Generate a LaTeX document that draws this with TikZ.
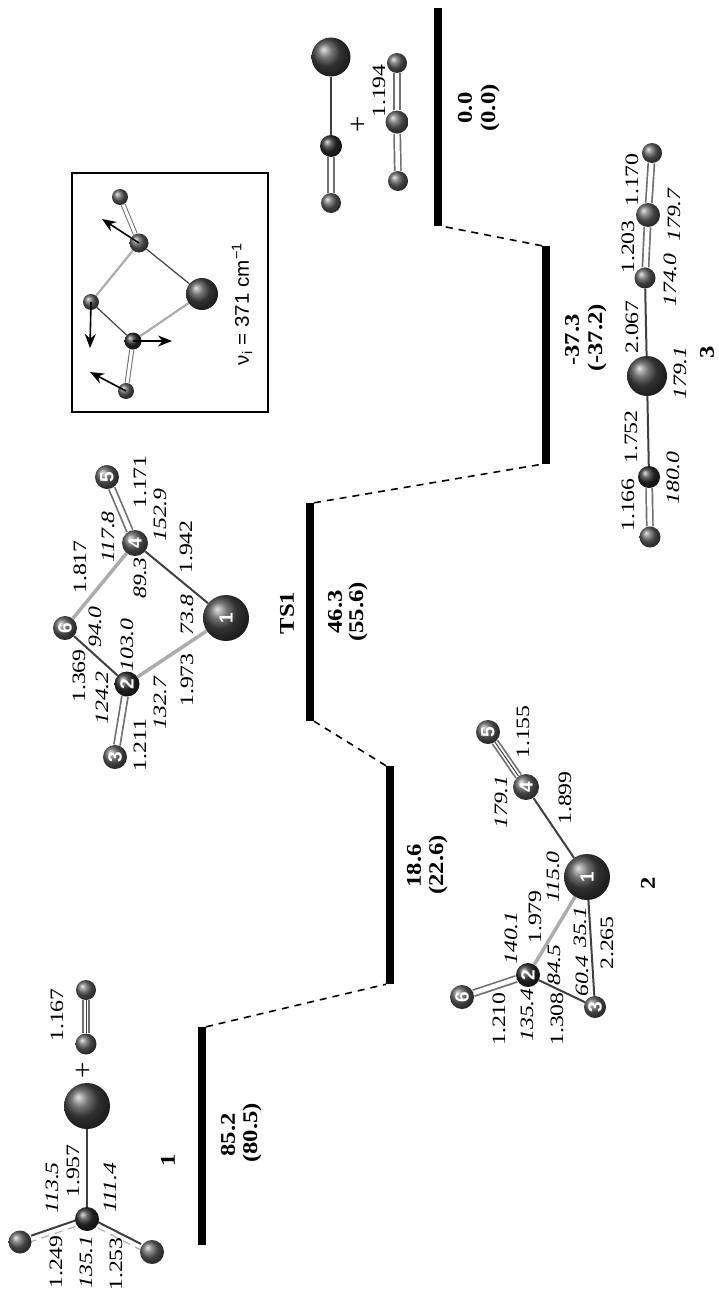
\documentclass[tikz,border=0pt]{standalone}
\usepackage{fontspec}
\setmainfont{Liberation Serif}
\setsansfont{Liberation Sans}
\usetikzlibrary{arrows.meta,backgrounds}
\tikzset{
  atom/.style={circle,inner sep=0pt,minimum size=#1,ball color=gray!75!black,rotate=90,
    text=white,font=\sffamily\bfseries\fontsize{19}{19}\selectfont},
  bigatom/.style={atom=#1,ball color=gray!55!black},
  darkatom/.style={atom=#1,ball color=gray!35!black},
  upatom/.style={atom=#1,rotate=0},
  dist/.style={rotate=90,xscale=1.32,yscale=1.05,inner sep=0pt,font=\fontsize{18}{20}\selectfont},
  angl/.style={dist,font=\itshape\fontsize{18}{20}\selectfont},
  lvltext/.style={rotate=90,xscale=1.3,yscale=1.1,inner sep=0pt,font=\bfseries\fontsize{19}{21}\selectfont},
  plus/.style={rotate=90,inner sep=0pt,scale=1.6,font=\fontsize{18}{20}\selectfont},
  lvl/.style={fill=black,inner sep=0pt,minimum width=7.5pt,minimum height=218pt},
  bond/.style={gray!50!black,line width=2pt},
  wbond/.style={gray!65,line width=3.5pt},
  dbond/.style={gray!40!black!70,line width=1.7pt,double=white,double distance=4.5pt},
  hbond/.style={gray!60,line width=1.3pt,dash pattern=on 8pt off 6pt},
  jump/.style={line width=1.6pt,dash pattern=on 7pt off 6pt},
  mode/.style={line width=1.6pt,-{Stealth[length=14pt,width=11pt]}}
}
\begin{document}
\begin{tikzpicture}[x=1pt,y=-1pt]
  \useasboundingbox (0,0) rectangle (718,1290);

  % Energy levels
  \node[lvl] (lvlA) at (202,1136) {};
  \node[lvl] (lvlB) at (390,875) {};
  \node[lvl] (lvlC) at (310,612) {};
  \node[lvl] (lvlD) at (546,355) {};
  \node[lvl] (lvlE) at (438,117) {};
  \draw[jump] (lvlA.north east) -- (lvlB.south west);
  \draw[jump] (lvlB.north west) -- (lvlC.south east);
  \draw[jump] (lvlC.north east) -- (lvlD.south west);
  \draw[jump] (lvlD.north west) -- (lvlE.south east);
  \foreach \x/\y/\t [count=\i] in {228/1135/85.2,252/1133/(80.5),168/1160/1,
      414/866/18.6,438/865/(22.6),648/883/2,287/613/TS1,335/612/46.3,358/612/(55.6),
      572/340/-37.3,597/338/(-37.2),707/352/3,465/108/0.0,490/108/(0.0)}{
    \node[lvltext] (lvltxt\i) at (\x,\y) {\t};
  }

  % Structure 1
  \node[bigatom=46pt] (rM) at (87,1106) {};
  \node[darkatom=24pt] (rC) at (87,1219) {};
  \node[atom=23pt] (rO) at (20,1242) {};
  \node[atom=24pt] (rP) at (152,1252) {};
  \node[atom=20pt] (cA) at (86,990) {};
  \node[atom=21pt] (cB) at (86,1044) {};
  \begin{scope}[on background layer]
    \draw[bond] (rM) -- (rC);
    \draw[bond,transform canvas={yshift=2.5pt}] (rC) -- (rO);
    \draw[hbond,transform canvas={yshift=-3.5pt}] (rC) -- (rO);
    \draw[bond,transform canvas={yshift=2.5pt}] (rC) -- (rP);
    \draw[hbond,transform canvas={yshift=-3.5pt}] (rC) -- (rP);
    \draw[dbond] (cA) -- (cB);
    \draw[bond,line width=1pt] (cA) -- (cB);
  \end{scope}
  \node[plus] (plusA) at (84,1070) {+};

  % TS1
  \node[bigatom=46pt] (tM) at (226,618) {1};
  \node[darkatom=25pt] (tB) at (127,684) {2};
  \node[atom=24pt] (tC) at (115,757) {3};
  \node[atom=26pt] (tD) at (135,543) {4};
  \node[atom=24pt] (tE) at (107,477) {5};
  \node[atom=24pt] (tF) at (65,628) {6};
  \begin{scope}[on background layer]
    \draw[wbond] (tM) -- (tB);
    \draw[bond] (tM) -- (tD);
    \draw[bond] (tB) -- (tF);
    \draw[wbond] (tF) -- (tD);
    \draw[dbond] (tB) -- (tC);
    \draw[dbond] (tD) -- (tE);
  \end{scope}

  % Structure 2
  \node[bigatom=46pt] (iM) at (587,877) {1};
  \node[darkatom=24pt] (iB) at (528,975) {2};
  \node[atom=22pt] (iC) at (595,1007) {3};
  \node[atom=26pt] (iD) at (526,787) {4};
  \node[atom=24pt] (iE) at (488,732) {5};
  \node[atom=24pt] (iF) at (462,997) {6};
  \begin{scope}[on background layer]
    \draw[bond] (iM) -- (iD);
    \draw[wbond] (iM) -- (iB);
    \draw[bond] (iM) -- (iC);
    \draw[bond] (iB) -- (iC);
    \draw[dbond] (iB) -- (iF);
    \draw[dbond] (iD) -- (iE);
    \draw[bond,line width=1pt] (iD) -- (iE);
  \end{scope}

  % Structure 3
  \node[upatom=20pt] (pA) at (652,153) {};
  \node[upatom=24pt] (pB) at (648,215) {};
  \node[upatom=21pt] (pC) at (645,278) {};
  \node[bigatom=40pt,rotate=0] (pM) at (647,376) {};
  \node[darkatom=22pt,rotate=0] (pD) at (649,477) {};
  \node[upatom=21pt] (pE) at (650,537) {};
  \begin{scope}[on background layer]
    \draw[dbond] (pA) -- (pB);
    \draw[dbond] (pB) -- (pC);
    \draw[bond] (pC) -- (pM);
    \draw[bond] (pM) -- (pD);
    \draw[dbond] (pD) -- (pE);
  \end{scope}

  % Products
  \node[bigatom=39pt] (qM) at (331,57) {};
  \node[darkatom=22pt] (qC) at (331,146) {};
  \node[atom=20pt] (qO) at (331,203) {};
  \node[atom=20pt] (nA) at (397,63) {};
  \node[atom=23pt] (nB) at (397,122) {};
  \node[atom=20pt] (nC) at (398,181) {};
  \begin{scope}[on background layer]
    \draw[bond] (qM) -- (qC);
    \draw[dbond] (qC) -- (qO);
    \draw[dbond] (nA) -- (nB);
    \draw[dbond] (nB) -- (nC);
  \end{scope}
  \node[plus] (plusB) at (359,124) {+};

  % Bond lengths
  \foreach \x/\y/\t [count=\i] in {57/1015/1.167,73/1171/1.957,56/1262/1.249,116/1264/1.253,
      79/676/1.369,80/567/1.817,140/745/1.211,187/680/1.973,186/547/1.942,140/482/1.171,
      523/732/1.155,565/798/1.899,535/917/1.979,607/943/2.265,499/1019/1.210,557/1019/1.308,
      379/91/1.194,632/180/1.170,628/247/1.203,632/327/2.067,631/437/1.752,628/505/1.166}{
    \node[dist] (dist\i) at (\x,\y) {\t};
  }
  % Angles
  \foreach \x/\y/\t [count=\i] in {52/1188/113.5,110/1188/111.4,86/1262/135.1,
      102/698/124.2,95/627/94.0,127/645/103.0,160/703/132.7,187/615/73.8,140/578/89.3,
      160/515/152.9,108/537/117.8,
      501/802/179.1,553/877/115.0,511/938/140.1,580/927/35.1,554/965/84.5,582/976/60.4,527/1015/135.4,
      674/215/179.7,670/280/174.0,680/373/179.1,673/478/180.0}{
    \node[angl] (angl\i) at (\x,\y) {\t};
  }

  % Imaginary mode inset
  \node[draw,line width=1.6pt,inner sep=0pt,minimum width=196pt,minimum height=239pt] (inset) at (170,292.5) {};
  \node[atom=16pt] (vA) at (120,197) {};
  \node[atom=19pt] (vD) at (139,243) {};
  \node[atom=16pt] (vF) at (91,302) {};
  \node[bigatom=32pt] (vM) at (202,294) {};
  \node[darkatom=17pt] (vB) at (133,341) {};
  \node[atom=16pt] (vC) at (126,391) {};
  \begin{scope}[on background layer]
    \draw[dbond,line width=1pt,double distance=3pt] (vA) -- (vD);
    \draw[bond,line width=1.2pt] (vD) -- (vM);
    \draw[wbond,line width=2.2pt] (vD) -- (vF);
    \draw[bond,line width=1.2pt] (vF) -- (vB);
    \draw[wbond,line width=2.2pt] (vB) -- (vM);
    \draw[dbond,line width=1pt,double distance=3pt] (vB) -- (vC);
  \end{scope}
  \coordinate (tipD) at (102,219);
  \coordinate (tipF) at (90,348);
  \coordinate (tipB) at (172,341);
  \coordinate (tipC) at (90,372);
  \draw[mode] (vD.center) -- (tipD);
  \draw[mode] (vF.center) -- (tipF);
  \draw[mode] (vB.center) -- (tipB);
  \draw[mode] (vC.center) -- (tipC);
  \node[rotate=90,xscale=1.25,yscale=1.2,inner sep=0pt,font=\sffamily\fontsize{16.5}{18}\selectfont] (freq) at (242,304) {ν\textsubscript{i} = 371 cm\textsuperscript{−1}};
\end{tikzpicture}
\end{document}
